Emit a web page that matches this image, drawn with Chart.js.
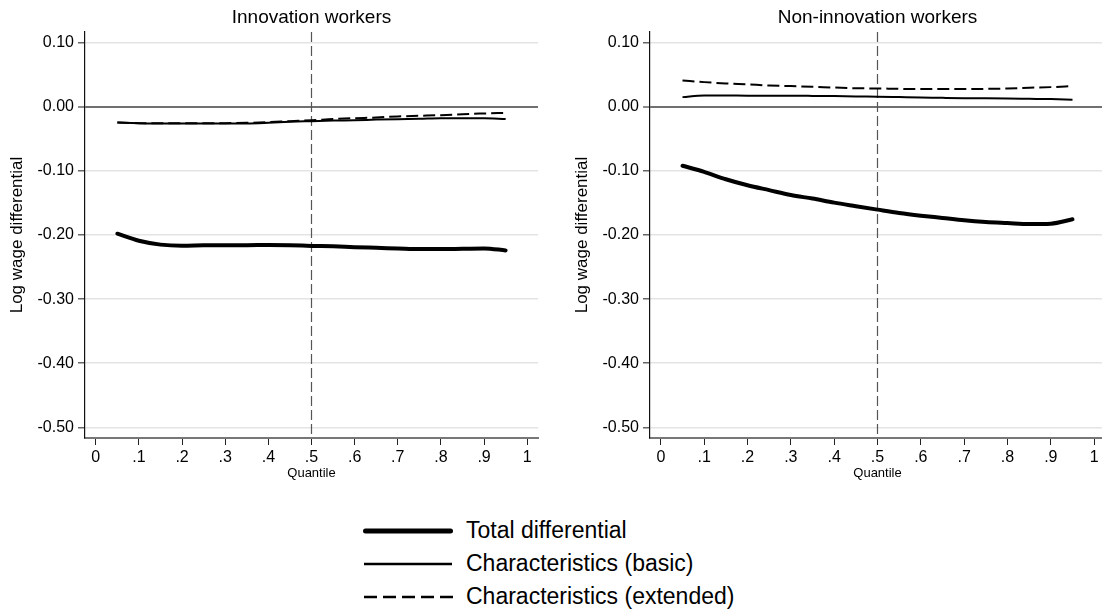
<!DOCTYPE html>
<html>
<head>
<meta charset="utf-8">
<script src="https://cdn.jsdelivr.net/npm/chart.js@4.4.0/dist/chart.umd.min.js"></script>
<style>
  html, body { margin: 0; padding: 0; background: #fff; width: 1102px; height: 613px; overflow: hidden; }
  #wrap { position: relative; width: 1102px; height: 613px; overflow: hidden; }
  #c1 { position: absolute; left: 0; top: 0; }
  #c2 { position: absolute; left: 565px; top: 0; }
  #legend { position: absolute; left: 363px; top: 514px; font-family: 'Liberation Sans', Arial, sans-serif; font-size: 23px; color: #000; }
  .row { height: 33px; display: flex; align-items: center; white-space: nowrap; }
  .row svg { margin-right: 13px; }
</style>
</head>
<body>
<div id="wrap">
  <canvas id="c1" width="545" height="485"></canvas>
  <canvas id="c2" width="547" height="485"></canvas>
  <div id="legend">
    <div class="row"><svg width="90" height="10"><line x1="2.5" y1="5" x2="87.5" y2="5" stroke="#000" stroke-width="5" stroke-linecap="round"/></svg><span>Total differential</span></div>
    <div class="row"><svg width="90" height="10"><line x1="1" y1="5" x2="89" y2="5" stroke="#000" stroke-width="2.5"/></svg><span>Characteristics (basic)</span></div>
    <div class="row"><svg width="90" height="10"><line x1="1" y1="5" x2="90" y2="5" stroke="#000" stroke-width="2.5" stroke-dasharray="13 6"/></svg><span>Characteristics (extended)</span></div>
  </div>
</div>
<script>
// quantiles where the decomposition is evaluated
var quantiles = [0.05, 0.10, 0.15, 0.20, 0.25, 0.30, 0.35, 0.40, 0.45, 0.50,
                 0.55, 0.60, 0.65, 0.70, 0.75, 0.80, 0.85, 0.90, 0.95];

// Innovation workers
var innovTotal = [-0.198, -0.209, -0.215, -0.2167, -0.216, -0.2158, -0.2158, -0.2156, -0.216, -0.217,
                  -0.2177, -0.219, -0.220, -0.221, -0.222, -0.222, -0.2215, -0.221, -0.224];
var innovBasic = [-0.0245, -0.0255, -0.026, -0.026, -0.026, -0.026, -0.026, -0.025, -0.0234, -0.0224,
                  -0.0214, -0.021, -0.020, -0.0193, -0.0188, -0.018, -0.018, -0.0177, -0.019];
var innovExt = [-0.0245, -0.0255, -0.0255, -0.0255, -0.0255, -0.0255, -0.025, -0.024, -0.0224, -0.021,
                -0.019, -0.0177, -0.0167, -0.015, -0.014, -0.013, -0.0115, -0.0104, -0.0094];

// Non-innovation workers
var nonTotal = [-0.092, -0.1016, -0.113, -0.1224, -0.130, -0.1375, -0.1432, -0.1495, -0.155, -0.1604,
                -0.1656, -0.1698, -0.1734, -0.1771, -0.1797, -0.1813, -0.1828, -0.1823, -0.1755];
var nonBasic = [0.0151, 0.0177, 0.0177, 0.0172, 0.0172, 0.0172, 0.017, 0.0167, 0.0162, 0.0156,
                0.0151, 0.0146, 0.014, 0.0135, 0.0133, 0.013, 0.0125, 0.012, 0.011];
var nonExt = [0.041, 0.0385, 0.0365, 0.035, 0.0333, 0.0323, 0.0313, 0.030, 0.029, 0.0286,
              0.028, 0.0276, 0.0276, 0.0276, 0.028, 0.0286, 0.0297, 0.0307, 0.0323];

var yTicks = [-0.5, -0.4, -0.3, -0.2, -0.1, 0, 0.1];
var yTickLabels = ['-0.50', '-0.40', '-0.30', '-0.20', '-0.10', '0.00', '0.10'];
var xTicks = [0, 0.1, 0.2, 0.3, 0.4, 0.5, 0.6, 0.7, 0.8, 0.9, 1];
var xTickLabels = ['0', '.1', '.2', '.3', '.4', '.5', '.6', '.7', '.8', '.9', '1'];
var medianQ = 0.5;

Chart.defaults.font.family = "'Liberation Sans', Arial, sans-serif";
Chart.defaults.color = '#000';

function pts(vals) {
  return quantiles.map(function (q, i) { return { x: q, y: vals[i] }; });
}

var medianLine = {
  id: 'medianLine',
  beforeDatasetsDraw: function (chart) {
    var ctx = chart.ctx, area = chart.chartArea;
    var x = chart.scales.x.getPixelForValue(medianQ);
    ctx.save();
    ctx.strokeStyle = '#555';
    ctx.lineWidth = 1.2;
    ctx.setLineDash([10, 4]);
    ctx.beginPath();
    ctx.moveTo(x, area.top);
    ctx.lineTo(x, area.bottom);
    ctx.stroke();
    ctx.restore();
  }
};

function makePanel(id, title, total, basic, ext) {
  return new Chart(document.getElementById(id), {
    type: 'line',
    data: {
      datasets: [
        { label: 'Total differential', data: pts(total), xAxisID: 'x', yAxisID: 'y', borderColor: '#000', borderWidth: 4, borderCapStyle: 'round' },
        { label: 'Characteristics (basic)', data: pts(basic), xAxisID: 'x', yAxisID: 'y', borderColor: '#000', borderWidth: 2 },
        { label: 'Characteristics (extended)', data: pts(ext), xAxisID: 'x', yAxisID: 'y', borderColor: '#000', borderWidth: 2, borderDash: [12, 5] }
      ]
    },
    options: {
      responsive: false,
      animation: false,
      layout: { padding: { right: 7 } },
      elements: { point: { radius: 0 }, line: { tension: 0.4, cubicInterpolationMode: 'monotone', fill: false } },
      plugins: { legend: { display: false }, tooltip: { enabled: false } },
      scales: {
        top: {
          type: 'linear', position: 'top', display: true,
          grid: { display: false }, border: { display: false }, ticks: { display: false },
          title: { display: true, text: title, font: { size: 19 }, padding: { top: 6, bottom: 0 } },
          afterFit: function (s) { s.height = 32; }
        },
        x: {
          type: 'linear', position: 'bottom', min: -0.025, max: 1.025,
          afterBuildTicks: function (s) { s.ticks = xTicks.map(function (v) { return { value: v }; }); },
          ticks: {
            autoSkip: false, maxRotation: 0, padding: 3, font: { size: 16 },
            callback: function (v) { return xTickLabels[xTicks.indexOf(v)]; }
          },
          grid: { drawOnChartArea: false, drawTicks: true, tickLength: 7, color: '#222', tickWidth: 1 },
          border: { color: '#777', width: 2 },
          title: { display: true, text: 'Quantile', font: { size: 13 }, padding: { top: 0, bottom: 4 } },
          afterFit: function (s) { s.height = 47; }
        },
        y: {
          type: 'linear', min: -0.5167, max: 0.1167,
          afterBuildTicks: function (s) { s.ticks = yTicks.map(function (v) { return { value: v }; }); },
          ticks: {
            padding: 4, font: { size: 16 },
            callback: function (v) { return yTickLabels[yTicks.indexOf(v)]; }
          },
          grid: {
            color: function (c) { return c.tick && c.tick.value === 0 ? '#707070' : '#e4e4e4'; },
            lineWidth: function (c) { return c.tick && c.tick.value === 0 ? 2 : 1.5; },
            tickColor: '#666', tickWidth: 1.5, tickLength: 7
          },
          border: { color: '#111', width: 1.2 },
          title: { display: true, text: 'Log wage differential', font: { size: 17 }, padding: { top: 7, bottom: 0 } },
          afterFit: function (s) { s.width = 85; }
        }
      }
    },
    plugins: [medianLine]
  });
}

makePanel('c1', 'Innovation workers', innovTotal, innovBasic, innovExt);
makePanel('c2', 'Non-innovation workers', nonTotal, nonBasic, nonExt);
</script>
</body>
</html>
